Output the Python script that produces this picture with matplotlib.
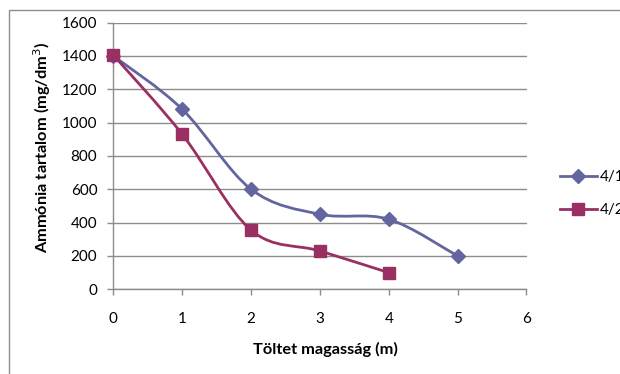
import matplotlib
matplotlib.use("Agg")
import matplotlib.pyplot as plt
import numpy as np
from matplotlib.path import Path
from matplotlib.patches import PathPatch, Rectangle
from matplotlib.lines import Line2D

plt.rcParams['font.family'] = ['Lato', 'DejaVu Sans']

# Measured ammonia content along the packing height
height_a = [0, 1, 2, 3, 4, 5]
ammonia_a = [1400, 1080, 600, 450, 420, 200]
height_b = [0, 1, 2, 3, 4]
ammonia_b = [1405, 930, 355, 230, 100]
series_names = ["4/1", "4/2"]

x_ticks = [0, 1, 2, 3, 4, 5, 6]
y_ticks = [0, 200, 400, 600, 800, 1000, 1200, 1400, 1600]

color_a = "#63659F"
color_b = "#9A2F63"
grid_color = "#8C8C8C"


def smooth_path(xs, ys):
    """Cubic Bezier path through the points (Catmull-Rom control points)."""
    pts = np.column_stack([xs, ys]).astype(float)
    n = len(pts)
    verts = [pts[0]]
    codes = [Path.MOVETO]
    for i in range(n - 1):
        p0 = pts[i - 1] if i > 0 else pts[i]
        p1 = pts[i]
        p2 = pts[i + 1]
        p3 = pts[i + 2] if i + 2 < n else pts[i + 1]
        c1 = p1 + (p2 - p0) / 6.0
        c2 = p2 - (p3 - p1) / 6.0
        verts += [c1, c2, p2]
        codes += [Path.CURVE4] * 3
    return Path(verts, codes)


fig = plt.figure(figsize=(6.2, 3.74), dpi=100)
fig.patches.append(Rectangle((9 / 620, -0.1), 1.2, 1 - 10 / 374 + 0.1,
                             transform=fig.transFigure, fill=False,
                             edgecolor="#8C8C8C", linewidth=1.0))

ax = fig.add_axes([113.3 / 620, 1 - 289.3 / 374, (526.5 - 113.3) / 620, (289.3 - 22.5) / 374])
ax.set_xlim(0, 6)
ax.set_ylim(0, 1600)
ax.set_xticks(x_ticks)
ax.set_yticks(y_ticks)
ax.yaxis.grid(True, color=grid_color, linewidth=1.0)
ax.set_axisbelow(True)
for side in ("top", "right"):
    ax.spines[side].set_visible(False)
for side in ("left", "bottom"):
    ax.spines[side].set_color(grid_color)
    ax.spines[side].set_linewidth(1.0)
ax.tick_params(direction="out", length=4.5, width=1.0, color=grid_color,
               labelsize=11)
ax.tick_params(axis="y", pad=7)
ax.tick_params(axis="x", pad=12)

for xs, ys, c, mk, ms in ((height_a, ammonia_a, color_a, "D", 7.5),
                          (height_b, ammonia_b, color_b, "s", 8.5)):
    ax.add_patch(PathPatch(smooth_path(xs, ys), facecolor="none",
                           edgecolor=c, linewidth=2.0, zorder=3))
    ax.plot(xs, ys, linestyle="none", marker=mk, markersize=ms,
            color=c, markeredgecolor=c, zorder=4, clip_on=False)

fig.text(42 / 620, 1 - 147 / 374, "Ammónia tartalom (mg/dm$^3$)", rotation=90,
         ha="center", va="center", fontsize=11.8, fontweight="bold")
fig.text(325 / 620, 1 - 349 / 374, "Töltet magasság (m)",
         ha="center", va="center", fontsize=11.8, fontweight="bold")

handles = [Line2D([], [], color=color_a, linewidth=2.0, marker="D", markersize=7),
           Line2D([], [], color=color_b, linewidth=2.0, marker="s", markersize=8)]
fig.legend(handles, series_names, loc="upper left",
           bbox_to_anchor=(560 / 620, 1 - 170 / 374), frameon=False,
           fontsize=11, handlelength=2.4, labelspacing=1.25, handletextpad=0.2,
           borderaxespad=0, borderpad=0)

fig.savefig("out.png", dpi=100)
